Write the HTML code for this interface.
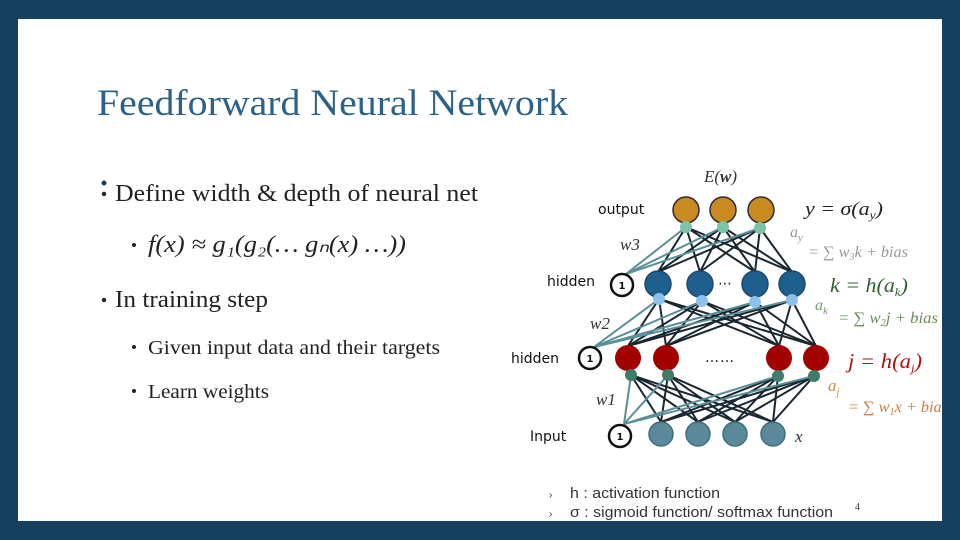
<!DOCTYPE html>
<html><head><meta charset="utf-8"><style>
html,body{margin:0;padding:0;background:#15405f;}
svg{display:block;}
</style></head><body>
<svg width="960" height="540" viewBox="0 0 960 540" xmlns="http://www.w3.org/2000/svg">
<rect x="0" y="0" width="960" height="540" fill="#15405f"/>
<rect x="18" y="19" width="924" height="502" fill="#ffffff"/>
<text x="97" y="115" font-family="Liberation Serif, serif" font-size="37" fill="#2c6189" textLength="471" lengthAdjust="spacingAndGlyphs">Feedforward Neural Network</text>
<g font-family="Liberation Serif, serif" fill="#222">
<circle cx="104" cy="183" r="2.5" fill="#15405f"/>
<circle cx="104" cy="194" r="2.2"/>
<text x="115" y="201" font-size="24" textLength="363" lengthAdjust="spacingAndGlyphs">Define width &amp; depth of  neural net</text>
<circle cx="134" cy="245" r="2"/>
<text x="148" y="252" font-size="24" font-style="italic" textLength="258" lengthAdjust="spacingAndGlyphs">f(x) ≈ g₁(g₂(… gₙ(x) …))</text>
<circle cx="104" cy="300" r="2.2"/>
<text x="115" y="307" font-size="24" textLength="153" lengthAdjust="spacingAndGlyphs">In training step</text>
<circle cx="134" cy="347" r="2"/>
<text x="148" y="354" font-size="20" textLength="292" lengthAdjust="spacingAndGlyphs">Given input data and their targets</text>
<circle cx="134" cy="391" r="2"/>
<text x="148" y="398" font-size="20" textLength="121" lengthAdjust="spacingAndGlyphs">Learn weights</text>
</g>
<g stroke="#1a2630" stroke-width="2">
<line x1="686" y1="227" x2="658" y2="272"/><line x1="686" y1="227" x2="700" y2="272"/><line x1="686" y1="227" x2="755" y2="272"/><line x1="686" y1="227" x2="792" y2="272"/>
<line x1="723" y1="227" x2="658" y2="272"/><line x1="723" y1="227" x2="700" y2="272"/><line x1="723" y1="227" x2="755" y2="272"/><line x1="723" y1="227" x2="792" y2="272"/>
<line x1="760" y1="228" x2="658" y2="272"/><line x1="760" y1="228" x2="700" y2="272"/><line x1="760" y1="228" x2="755" y2="272"/><line x1="760" y1="228" x2="792" y2="272"/>
<line x1="659" y1="299" x2="628" y2="346"/><line x1="659" y1="299" x2="666" y2="346"/><line x1="659" y1="299" x2="779" y2="346"/><line x1="659" y1="299" x2="816" y2="346"/>
<line x1="702" y1="301" x2="628" y2="346"/><line x1="702" y1="301" x2="666" y2="346"/><line x1="702" y1="301" x2="779" y2="346"/><line x1="702" y1="301" x2="816" y2="346"/>
<line x1="755" y1="302" x2="628" y2="346"/><line x1="755" y1="302" x2="666" y2="346"/><line x1="755" y1="302" x2="779" y2="346"/><line x1="755" y1="302" x2="816" y2="346"/>
<line x1="792" y1="300" x2="628" y2="346"/><line x1="792" y1="300" x2="666" y2="346"/><line x1="792" y1="300" x2="779" y2="346"/><line x1="792" y1="300" x2="816" y2="346"/>
<line x1="631" y1="375" x2="661" y2="422"/><line x1="631" y1="375" x2="698" y2="422"/><line x1="631" y1="375" x2="735" y2="422"/><line x1="631" y1="375" x2="773" y2="422"/>
<line x1="668" y1="375" x2="661" y2="422"/><line x1="668" y1="375" x2="698" y2="422"/><line x1="668" y1="375" x2="735" y2="422"/><line x1="668" y1="375" x2="773" y2="422"/>
<line x1="778" y1="376" x2="661" y2="422"/><line x1="778" y1="376" x2="698" y2="422"/><line x1="778" y1="376" x2="735" y2="422"/><line x1="778" y1="376" x2="773" y2="422"/>
<line x1="814" y1="376" x2="661" y2="422"/><line x1="814" y1="376" x2="698" y2="422"/><line x1="814" y1="376" x2="735" y2="422"/><line x1="814" y1="376" x2="773" y2="422"/>
</g>
<g stroke="#5a8f99" stroke-width="2">
<line x1="626" y1="274" x2="686" y2="227"/><line x1="626" y1="274" x2="723" y2="227"/><line x1="626" y1="274" x2="760" y2="228"/>
<line x1="594" y1="347" x2="659" y2="299"/><line x1="594" y1="347" x2="702" y2="301"/><line x1="594" y1="347" x2="755" y2="302"/><line x1="594" y1="347" x2="792" y2="300"/>
<line x1="624" y1="424" x2="631" y2="375"/><line x1="624" y1="424" x2="668" y2="375"/><line x1="624" y1="424" x2="778" y2="376"/><line x1="624" y1="424" x2="814" y2="376"/>
</g>
<g stroke="#2b2b2b" stroke-width="1.5">
<circle cx="686" cy="210" r="13" fill="#c98a22"/><circle cx="723" cy="210" r="13" fill="#c98a22"/><circle cx="761" cy="210" r="13" fill="#c98a22"/>
</g>
<g fill="#7dc3a6"><circle cx="686" cy="227" r="6"/><circle cx="723" cy="227" r="6"/><circle cx="760" cy="228" r="6"/></g>
<g fill="#1e5f8e" stroke="#1a4a70" stroke-width="1.5">
<circle cx="658" cy="284" r="13"/><circle cx="700" cy="284" r="13"/><circle cx="755" cy="284" r="13"/><circle cx="792" cy="284" r="13"/>
</g>
<g fill="#8cc2ea"><circle cx="659" cy="299" r="6"/><circle cx="702" cy="301" r="6"/><circle cx="755" cy="302" r="6"/><circle cx="792" cy="300" r="6"/></g>
<g fill="#a30000">
<circle cx="628" cy="358" r="13"/><circle cx="666" cy="358" r="13"/><circle cx="779" cy="358" r="13"/><circle cx="816" cy="358" r="13"/>
</g>
<g fill="#3f7d69"><circle cx="631" cy="375" r="6"/><circle cx="668" cy="375" r="6"/><circle cx="778" cy="376" r="6"/><circle cx="814" cy="376" r="6"/></g>
<g fill="#5a8a99" stroke="#3f6f7f" stroke-width="1.5">
<circle cx="661" cy="434" r="12"/><circle cx="698" cy="434" r="12"/><circle cx="735" cy="434" r="12"/><circle cx="773" cy="434" r="12"/>
</g>
<g fill="#fff" stroke="#111" stroke-width="2.5">
<circle cx="622" cy="285" r="11"/><circle cx="590" cy="358" r="11"/><circle cx="620" cy="436" r="11"/>
</g>
<g font-family="DejaVu Sans, sans-serif" font-size="10" font-weight="bold" text-anchor="middle" fill="#111">
<text x="622" y="289">1</text><text x="590" y="362">1</text><text x="620" y="440">1</text>
</g>
<g font-family="DejaVu Sans, sans-serif" font-size="14" fill="#111">
<text x="598" y="214">output</text>
<text x="547" y="286">hidden</text>
<text x="511" y="363">hidden</text>
<text x="530" y="441">Input</text>
<text x="718" y="288">⋯</text>
<text x="705" y="362" letter-spacing="1">……</text>
</g>
<g font-family="Liberation Serif, serif" font-style="italic" fill="#333">
<text x="620" y="250" font-size="17">w3</text>
<text x="590" y="329" font-size="17">w2</text>
<text x="596" y="405" font-size="17">w1</text>
<text x="795" y="442" font-size="17">x</text>
<text x="704" y="182" font-size="17">E(<tspan font-weight="bold">w</tspan>)</text>
<text x="805" y="215" font-size="19" fill="#222" textLength="78" lengthAdjust="spacingAndGlyphs">y = σ(a<tspan font-size="12" dy="4">y</tspan><tspan dy="-4">)</tspan></text>
<text x="790" y="237" font-size="16" fill="#999">a<tspan font-size="11" dy="4">y</tspan></text>
<text x="808" y="257" font-size="16" fill="#999" textLength="100" lengthAdjust="spacingAndGlyphs">= ∑ w<tspan font-size="10" dy="3">3</tspan><tspan dy="-3">k + bias</tspan></text>
<text x="830" y="292" font-size="20" fill="#2f5f2f" textLength="78" lengthAdjust="spacingAndGlyphs">k = h(a<tspan font-size="12" dy="4">k</tspan><tspan dy="-4">)</tspan></text>
<text x="815" y="310" font-size="16" fill="#7a9a6a">a<tspan font-size="11" dy="4">k</tspan></text>
<text x="838" y="323" font-size="16" fill="#6a8a5a" textLength="100" lengthAdjust="spacingAndGlyphs">= ∑ w<tspan font-size="10" dy="3">2</tspan><tspan dy="-3">j + bias</tspan></text>
<text x="848" y="368" font-size="21" fill="#b01010" textLength="74" lengthAdjust="spacingAndGlyphs">j = h(a<tspan font-size="12" dy="4">j</tspan><tspan dy="-4">)</tspan></text>
<text x="828" y="391" font-size="17" fill="#d08a40">a<tspan font-size="11" dy="4">j</tspan></text>
<text x="848" y="412" font-size="16" fill="#c8803a" textLength="100" lengthAdjust="spacingAndGlyphs">= ∑ w<tspan font-size="10" dy="3">1</tspan><tspan dy="-3">x + bias</tspan></text>
</g>
<rect x="942" y="380" width="18" height="60" fill="#15405f"/>
<g font-family="Liberation Sans, sans-serif" font-size="15" fill="#333">
<text x="549" y="498" font-size="10">›</text>
<text x="570" y="498" textLength="150" lengthAdjust="spacingAndGlyphs">h : activation function</text>
<text x="549" y="517" font-size="10">›</text>
<text x="570" y="517" textLength="263" lengthAdjust="spacingAndGlyphs">σ : sigmoid function/ softmax function</text>
<text x="855" y="510" font-size="10" font-family="Liberation Serif, serif">4</text>
</g>
</svg>
</body></html>
